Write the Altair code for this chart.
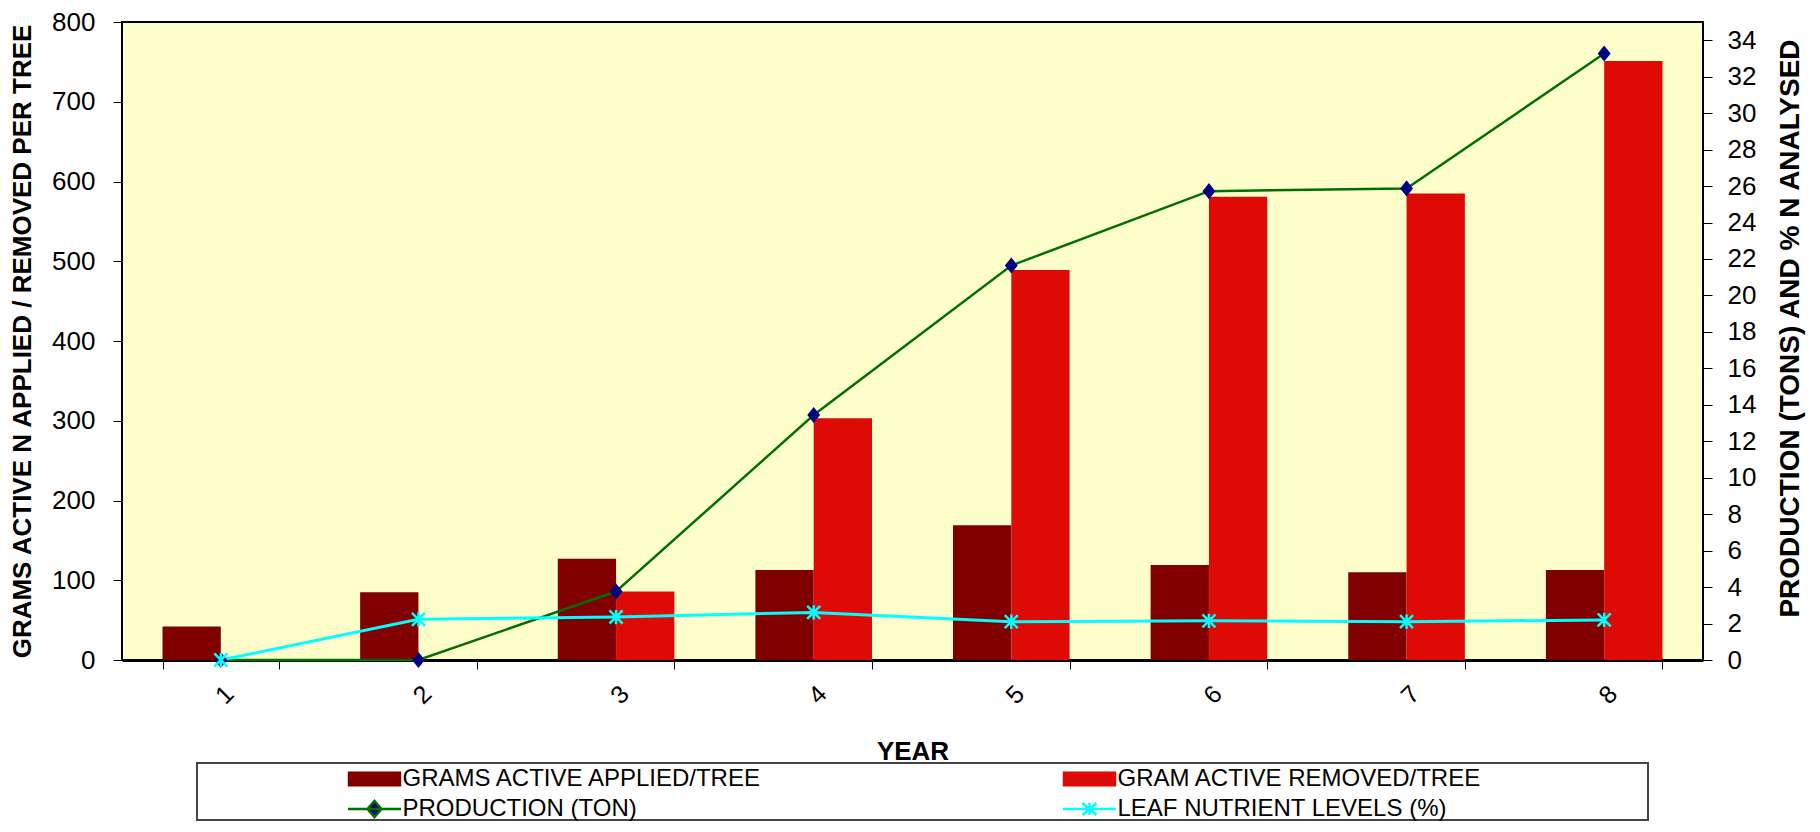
import altair as alt
import pandas as pd

years = [1, 2, 3, 4, 5, 6, 7, 8]
applied = [42, 85, 127, 113, 169, 119, 110, 113]
removed = [0, 0, 86, 303, 489, 581, 585, 751]
production = [0, 0, 3.76, 13.44, 21.64, 25.72, 25.87, 33.27]
leaf = [0, 2.23, 2.36, 2.61, 2.1, 2.15, 2.1, 2.2]

S_APP = "GRAMS ACTIVE APPLIED/TREE"
S_REM = "GRAM ACTIVE REMOVED/TREE"
S_PROD = "PRODUCTION (TON)"
S_LEAF = "LEAF NUTRIENT LEVELS (%)"
# legend order (laid out column by column)
series = [S_APP, S_PROD, S_REM, S_LEAF]
fill_colors = ["#800000", "#000080", "#DE0A05", "#00FFFF"]
stroke_colors = ["#800000", "#007000", "#DE0A05", "#00FFFF"]

rows = []
for name, vals in zip([S_APP, S_REM, S_PROD, S_LEAF], [applied, removed, production, leaf]):
    for y, v in zip(years, vals):
        rows.append({"year": y, "series": name, "value": v})
df = pd.DataFrame(rows)

FONT = "Liberation Sans"

RECT = "M-2.55,-0.62L2.55,-0.62L2.55,0.62L-2.55,0.62Z"
legend_paths = [
    RECT,
    "M-2.65,0L2.65,0M0,-0.8L0.7,0L0,0.8L-0.7,0Z",
    RECT,
    "M-2.65,0L2.65,0M-0.7,-0.6L0.7,0.6M-0.7,0.6L0.7,-0.6M0,-0.6L0,0.6",
]

leg = alt.Legend(
    title=None, orient="none", legendX=224, legendY=745, columns=2,
    columnPadding=295, rowPadding=5, padding=0, labelLimit=800,
    labelFont=FONT, labelFontSize=24, labelColor="black",
    symbolSize=400, symbolOffset=16.5, labelOffset=16, symbolStrokeWidth=2.5,
    symbolOpacity=1,
)

fill_scale = alt.Scale(domain=series, range=fill_colors)
stroke_scale = alt.Scale(domain=series, range=stroke_colors)
shape_scale = alt.Scale(domain=series, range=legend_paths)

base = alt.Chart(df)
one = alt.Chart(pd.DataFrame({"k": [0]}))

plot_bg = one.mark_rect(fill="#FFFFCC", strokeWidth=0).encode(
    x=alt.value(0), x2=alt.value("width"), y=alt.value(0), y2=alt.value("height")
)
plot_border = one.mark_rect(filled=False, stroke="black", strokeWidth=2).encode(
    x=alt.value(0), x2=alt.value("width"), y=alt.value(0), y2=alt.value("height")
)

x_enc = alt.X(
    "year:O",
    scale=alt.Scale(paddingInner=0.41, paddingOuter=0.205),
    axis=alt.Axis(
        title="YEAR", titleFont=FONT, titleFontSize=26, titleFontWeight="bold",
        titleColor="black", titlePadding=30,
        labelAngle=315, labelFont=FONT, labelFontSize=25, labelColor="black",
        labelPadding=12, tickBand="extent", tickSize=9, tickColor="black",
        domain=True, domainColor="black", domainWidth=3,
    ),
)

bars = base.transform_filter(
    alt.FieldOneOfPredicate(field="series", oneOf=[S_APP, S_REM])
).mark_bar().encode(
    x=x_enc,
    xOffset=alt.XOffset("series:N", sort=[S_APP, S_REM], scale=alt.Scale(paddingInner=0, paddingOuter=0)),
    y=alt.Y(
        "value:Q",
        scale=alt.Scale(domain=[0, 800], nice=False),
        axis=alt.Axis(
            title="GRAMS ACTIVE N APPLIED / REMOVED PER TREE", titleFont=FONT,
            titleFontSize=26, titleFontWeight="bold", titleColor="black", titlePadding=16,
            values=list(range(0, 801, 100)), labelFont=FONT, labelFontSize=26,
            labelColor="black", labelPadding=18, tickSize=9, tickColor="black",
            grid=False, domain=False,
        ),
    ),
    fill=alt.Fill("series:N", scale=fill_scale, legend=leg),
)

right_axis = alt.Axis(
    orient="right", title="PRODUCTION (TONS) AND % N ANALYSED", titleFont=FONT,
    titleFontSize=28, titleFontWeight="bold", titleColor="black", titleAngle=270,
    titleX=87, titleY=306, titleAlign="center", titleBaseline="middle",
    values=list(range(0, 35, 2)), labelFont=FONT, labelFontSize=26,
    labelColor="black", labelPadding=15, tickSize=9, tickColor="black",
    grid=False, domain=False,
)
y_right = alt.Y("value:Q", scale=alt.Scale(domain=[0, 35], nice=False), axis=right_axis)

prod_line = base.transform_filter(alt.datum.series == S_PROD).mark_line(strokeWidth=2.5).encode(
    x="year:O", y=y_right, stroke=alt.Stroke("series:N", scale=stroke_scale, legend=leg)
)
leaf_line = base.transform_filter(alt.datum.series == S_LEAF).mark_line(strokeWidth=3).encode(
    x="year:O", y=y_right, stroke=alt.Stroke("series:N", scale=stroke_scale, legend=leg)
)
prod_pts = base.transform_filter(alt.datum.series == S_PROD).mark_point(
    shape="M0,-1L0.8,0L0,1L-0.8,0Z", filled=True, color="#000080", size=260, opacity=1
).encode(x="year:O", y=y_right)
leaf_pts = base.transform_filter(alt.datum.series == S_LEAF).mark_point(
    shape="M-1,-1L1,1M-1,1L1,-1M0,-1.1L0,1.1", filled=False, color="#00FFFF", size=170,
    strokeWidth=2.5, opacity=1
).encode(x="year:O", y=y_right)

right_layer = alt.layer(prod_line, leaf_line, prod_pts, leaf_pts)

legend_carrier = base.transform_filter("false").mark_point(filled=True).encode(
    fill=alt.Fill("series:N", scale=fill_scale, legend=leg),
    stroke=alt.Stroke("series:N", scale=stroke_scale, legend=leg),
    shape=alt.Shape("series:N", scale=shape_scale, legend=leg),
)

box = one.mark_rect(filled=False, stroke="#444444", strokeWidth=2).encode(
    x=alt.value(75), x2=alt.value(1526), y=alt.value(741), y2=alt.value(798)
)

chart = alt.layer(plot_bg, plot_border, bars, right_layer, legend_carrier, box).resolve_scale(
    y="independent"
).properties(
    width=1581, height=638,
    autosize=alt.AutoSizeParams(type="none"),
    padding={"left": 114, "top": 14, "right": 109, "bottom": 162},
).configure(
    background="white"
).configure_view(
    stroke=None
)

chart.save("out.html", embed_options={"renderer": "svg", "actions": False})
